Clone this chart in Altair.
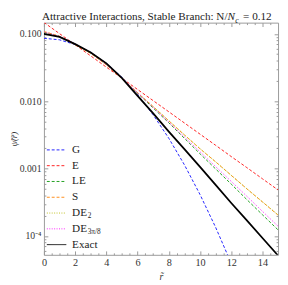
import altair as alt
import pandas as pd

# ---------------- data ----------------
r_vals = list(range(16))
series_names = ["G", "E", "LE", "S", "DE2", "DE3pi8", "Exact"]

psi_G = [0.0861, 0.0817, 0.0695, 0.0532, 0.0366, 0.02265, 0.01259, 0.00628,
         0.00282, 0.001138, 0.000412, 0.0001343, 0.0000393, 0.00001033,
         0.000002455, 0.000000513]
psi_E = [0.1479, 0.1009, 0.0689, 0.0471, 0.0321, 0.0219, 0.01496, 0.01021,
         0.00698, 0.00476, 0.00325, 0.00222, 0.00151, 0.001035, 0.000706, 0.000482]
psi_LE = [0.1059, 0.0912, 0.0708, 0.0525, 0.0351, 0.0219, 0.01318, 0.00794,
          0.00479, 0.00282, 0.00166, 0.000989, 0.000589, 0.000347, 0.0002065, 0.000123]
psi_S = [0.1086, 0.0923, 0.0692, 0.0513, 0.0347, 0.0216, 0.01334, 0.00832,
         0.00513, 0.00316, 0.00197, 0.00126, 0.000794, 0.000501, 0.00032, 0.000204]
psi_DE2 = [0.1082, 0.0921, 0.0693, 0.0514, 0.0348, 0.0217, 0.01338, 0.00835,
           0.00515, 0.00318, 0.00198, 0.001265, 0.000797, 0.000503, 0.000322, 0.000206]
psi_DE3 = [0.1076, 0.0918, 0.0711, 0.0525, 0.0351, 0.0219, 0.01334, 0.00813,
           0.0049, 0.00295, 0.00178, 0.00107, 0.000646, 0.000389, 0.000232, 0.0001396]
psi_exact = [0.1000, 0.0902, 0.0705, 0.0531, 0.0366, 0.0221, 0.01202, 0.00661,
             0.00355, 0.00195, 0.00106, 0.000575, 0.000309, 0.00017, 0.0000933, 0.0000513]

legend_main = ["G", "E", "LE", "S", "DE", "DE", "Exact"]
legend_sub = ["", "", "", "", "2", "3\u03c0/8", ""]

x_major = [0, 2, 4, 6, 8, 10, 12, 14]
x_minor = [0.5, 1, 1.5, 2.5, 3, 3.5, 4.5, 5, 5.5, 6.5, 7, 7.5, 8.5, 9, 9.5,
           10.5, 11, 11.5, 12.5, 13, 13.5, 14.5]
y_major = [0.0001, 0.001, 0.01, 0.1]
y_minor = [0.00006, 0.00007, 0.00008, 0.00009,
           0.0002, 0.0003, 0.0004, 0.0005, 0.0006, 0.0007, 0.0008, 0.0009,
           0.002, 0.003, 0.004, 0.005, 0.006, 0.007, 0.008, 0.009,
           0.02, 0.03, 0.04, 0.05, 0.06, 0.07, 0.08, 0.09]

colors = ["#2020ff", "#ff2020", "#20a020", "#ff8c1a", "#c0c020", "#ff20ff", "#000000"]
dashes = [[3, 2], [3, 2], [3, 2], [3, 2], [1, 1.5], [1, 1.5], [1, 0]]

# ---------------- tables ----------------
rows = []
for name, vals in zip(series_names, [psi_G, psi_E, psi_LE, psi_S, psi_DE2, psi_DE3, psi_exact]):
    for rv, pv in zip(r_vals, vals):
        rows.append({"r": rv, "psi": pv, "series": name})
df = pd.DataFrame(rows)
df_dashed = df[df.series != "Exact"]
df_exact = df[df.series == "Exact"]

leg = pd.DataFrame({"series": series_names, "row": list(range(7)),
                    "main": legend_main, "sub": legend_sub})

FONT = "Liberation Serif"
GRAY = "#999999"
LAB = "#333333"

xs = alt.Scale(domain=[0, 15], nice=False, zero=False)
ys = alt.Scale(type="log", domain=[5.25e-5, 0.147], nice=False)
cscale = alt.Scale(domain=series_names, range=colors)
dscale = alt.Scale(domain=series_names, range=dashes)

W, H = 241, 239

main_x_axis = alt.Axis(orient="bottom", values=x_major, title="r\u0303", offset=-4, tickSize=4,
                       domain=False, grid=False, labelPadding=3, labelFont=FONT, labelFontSize=10.5,
                       labelColor=LAB, tickColor=GRAY, titleFont=FONT, titleFontSize=10,
                       titleFontWeight="normal", titleFontStyle="italic", titleColor=LAB,
                       titlePadding=4, labelFlush=False)
main_y_axis = alt.Axis(orient="left", values=y_major, title="\u03c8\u0303(r\u0303)", offset=-4, tickSize=4,
                       domain=False, grid=False, labelPadding=3, labelFont=FONT, labelFontSize=10,
                       labelColor=LAB, tickColor=GRAY, titleFont=FONT, titleFontSize=9,
                       titleFontWeight="normal", titleFontStyle="italic", titleColor=LAB,
                       titlePadding=1, labelFlush=False,
                       labelExpr="datum.value >= 0.0009 ? format(datum.value, '.3f') : '10\u207b\u2074'")

dashed = alt.Chart(df_dashed).mark_line(clip=True, strokeWidth=1, strokeCap="butt").encode(
    x=alt.X("r:Q", scale=xs, axis=main_x_axis),
    y=alt.Y("psi:Q", scale=ys, axis=main_y_axis),
    color=alt.Color("series:N", scale=cscale, legend=None),
    strokeDash=alt.StrokeDash("series:N", scale=dscale, legend=None),
    detail="series:N",
)
exact = alt.Chart(df_exact).mark_line(clip=True, strokeWidth=1.8, color="#000000").encode(
    x=alt.X("r:Q", scale=xs, axis=None),
    y=alt.Y("psi:Q", scale=ys, axis=None),
)


def x_axis_layer(values, orient, size):
    ax = alt.Axis(orient=orient, values=values, labels=False, title=None, offset=-size,
                  tickSize=size, domain=False, grid=False, tickColor=GRAY)
    return alt.Chart(df_exact).mark_point(opacity=0).encode(
        x=alt.X("r:Q", scale=xs, axis=ax))


def y_axis_layer(values, orient, size):
    ax = alt.Axis(orient=orient, values=values, labels=False, title=None, offset=-size,
                  tickSize=size, domain=False, grid=False, tickColor=GRAY)
    return alt.Chart(df_exact).mark_point(opacity=0).encode(
        y=alt.Y("psi:Q", scale=ys, axis=ax))


axis_layers = [
    x_axis_layer(x_minor, "bottom", 2),
    x_axis_layer(x_major, "top", 4),
    x_axis_layer(x_minor, "top", 2),
    y_axis_layer(y_minor, "left", 2),
    y_axis_layer(y_major, "right", 4),
    y_axis_layer(y_minor, "right", 2),
]

# ---------------- legend (inside plot, lower left) ----------------
leg_y = alt.Y("row:Q", scale=alt.Scale(domain=[0, 6], range=[131, 228.5]), axis=None)
leg_lines = alt.Chart(leg).mark_rule(strokeWidth=1, strokeCap="butt").encode(
    x=alt.value(3), x2=alt.value(23), y=leg_y,
    color=alt.Color("series:N", scale=cscale, legend=None),
    strokeDash=alt.StrokeDash("series:N", scale=dscale, legend=None),
    strokeWidth=alt.condition("datum.series == 'Exact'", alt.value(1.6), alt.value(1)),
)
leg_text = alt.Chart(leg).mark_text(align="left", baseline="middle", font=FONT, fontSize=11.5,
                                    color="#222222").encode(
    x=alt.value(29), y=leg_y, text="main:N")
leg_sub = alt.Chart(leg).mark_text(align="left", baseline="middle", font=FONT, fontSize=7.5,
                                   color="#222222", dy=3).encode(
    x=alt.value(45), y=leg_y, text="sub:N")

# ---------------- title ----------------
def txt(s, x, y, size=11.5, style="normal", align="left"):
    return alt.Chart(pd.DataFrame({"t": [s]})).mark_text(
        align=align, baseline="alphabetic", font=FONT, fontSize=size, fontStyle=style,
        color="#222222").encode(x=alt.value(x), y=alt.value(y), text="t:N")


title_layers = [
    txt("Attractive Interactions, Stable Branch: N/", 189, -2.5, align="right"),
    txt("N", 189, -2.5, style="italic"),
    txt("c", 197, 0, size=8, style="italic"),
    txt("= 0.12", 205, -2.5),
]

chart = alt.layer(
    *axis_layers, dashed, exact, leg_lines, leg_text, leg_sub, *title_layers
).resolve_scale(
    x="independent", y="independent"
).resolve_axis(
    x="independent", y="independent"
).properties(
    width=W, height=H,
    padding={"left": 37, "top": 11, "right": 2, "bottom": 27},
    autosize=alt.AutoSizeParams(type="none"),
).configure_view(stroke=GRAY, strokeWidth=1)

chart.save("out.html", embed_options={"renderer": "svg", "actions": False})
